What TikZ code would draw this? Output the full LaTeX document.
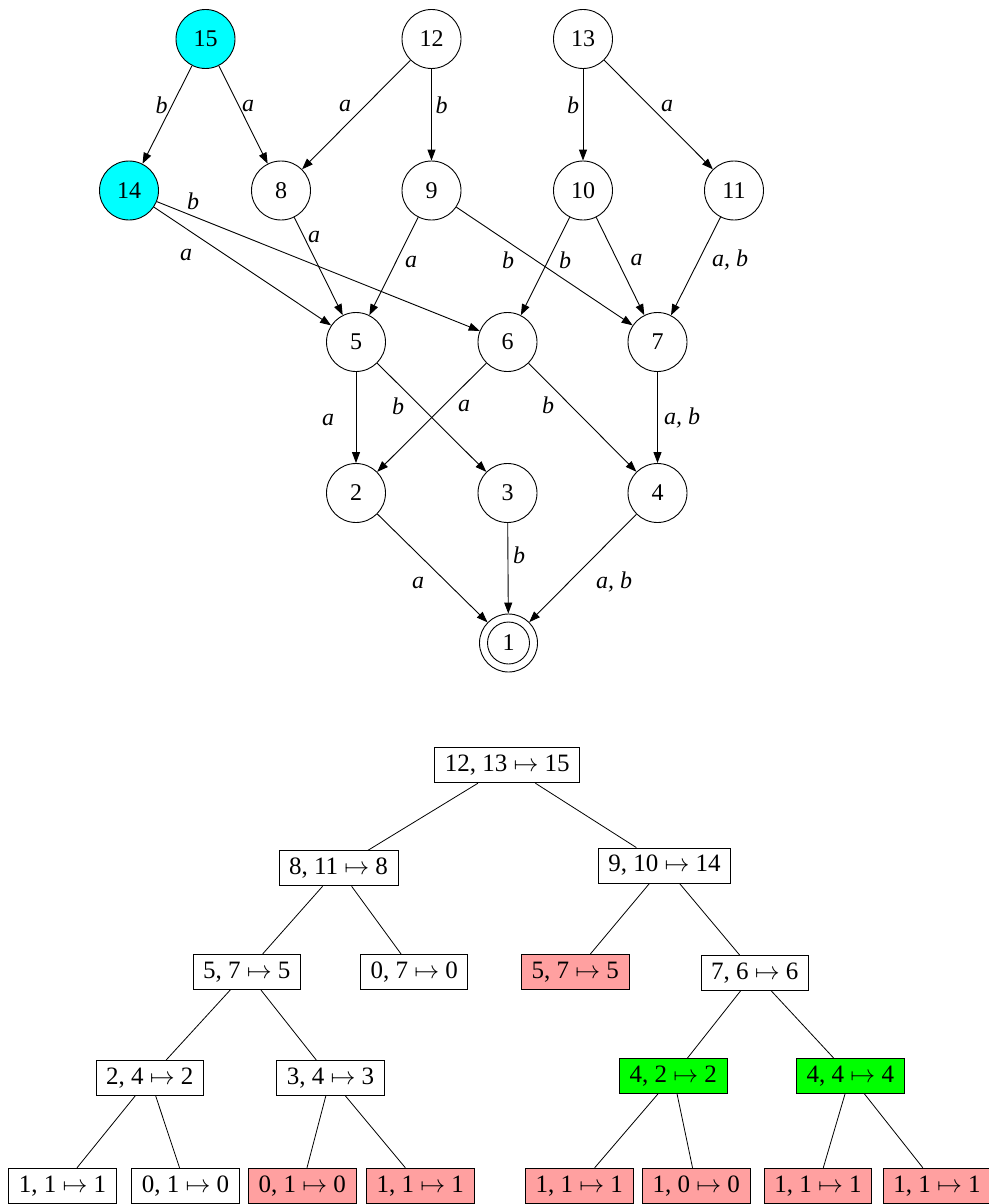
\documentclass[tikz,border=0pt]{standalone}
\usepackage{fontspec}
\setmainfont{Liberation Serif}
\definecolor{stCyan}{HTML}{00FFFF}
\definecolor{pairRed}{HTML}{FFA0A0}
\definecolor{pairGreen}{HTML}{00FF00}
\usetikzlibrary{arrows.meta}
\newcommand{\mt}{~$\mapsto$~}

\begin{document}
\begin{tikzpicture}[
  x=1pt, y=-1pt,
  stt/.style={draw, circle, line width=0.9pt, minimum size=59pt, inner sep=0pt, font=\fontsize{24}{28}\selectfont},
  pairbox/.style={draw, rectangle, line width=0.9pt, minimum height=35pt, inner xsep=10pt, inner ysep=0pt, font=\fontsize{25}{29}\selectfont},
  lbl/.style={font=\fontsize{24}{28}\selectfont\itshape, inner sep=0pt},
  arr/.style={-{Triangle[length=11pt,width=8pt]}, line width=0.9pt},
  tedge/.style={line width=0.8pt}
]
  \useasboundingbox (0,0) rectangle (988,1204);

  % the automaton
  \node[stt, fill=stCyan] (q15) at (205.5,39) {15};
  \node[stt] (q12) at (431.5,39) {12};
  \node[stt] (q13) at (583,39) {13};
  \node[stt, fill=stCyan] (q14) at (129,190.5) {14};
  \node[stt] (q8) at (281,190.5) {8};
  \node[stt] (q9) at (431.5,190.5) {9};
  \node[stt] (q10) at (583,190.5) {10};
  \node[stt] (q11) at (734,190.5) {11};
  \node[stt] (q5) at (356,342) {5};
  \node[stt] (q6) at (507.5,342) {6};
  \node[stt] (q7) at (657.5,342) {7};
  \node[stt] (q2) at (356,493) {2};
  \node[stt] (q3) at (507.5,493) {3};
  \node[stt] (q4) at (657.5,493) {4};
  \node[stt, minimum size=58pt] (q1) at (508.5,643) {1};
  \draw[line width=0.9pt] (q1.center) circle (21pt);

  \draw[arr] (q15) -- (q14);
  \draw[arr] (q15) -- (q8);
  \draw[arr] (q12) -- (q8);
  \draw[arr] (q12) -- (q9);
  \draw[arr] (q13) -- (q10);
  \draw[arr] (q13) -- (q11);
  \draw[arr] (q14) -- (q5);
  \draw[arr] (q14) -- (q6);
  \draw[arr] (q8) -- (q5);
  \draw[arr] (q9) -- (q5);
  \draw[arr] (q9) -- (q7);
  \draw[arr] (q10) -- (q6);
  \draw[arr] (q10) -- (q7);
  \draw[arr] (q11) -- (q7);
  \draw[arr] (q5) -- (q2);
  \draw[arr] (q5) -- (q3);
  \draw[arr] (q6) -- (q2);
  \draw[arr] (q6) -- (q4);
  \draw[arr] (q7) -- (q4);
  \draw[arr] (q2) -- (q1);
  \draw[arr] (q3) -- (q1);
  \draw[arr] (q4) -- (q1);

  % transition labels
  \node[lbl] (l15-14) at (161.7,105) {b};
  \node[lbl] (l15-8) at (248,106) {a};
  \node[lbl] (l12-8) at (345,106) {a};
  \node[lbl] (l12-9) at (441.7,105) {b};
  \node[lbl] (l13-10) at (573,105) {b};
  \node[lbl] (l13-11) at (667,106) {a};
  \node[lbl] (l14-6) at (193,201.7) {b};
  \node[lbl] (l14-5) at (186,255) {a};
  \node[lbl] (l8-5) at (314,236.7) {a};
  \node[lbl] (l9-5) at (411,261.7) {a};
  \node[lbl] (l9-7) at (508,260) {b};
  \node[lbl] (l10-6) at (565,260) {b};
  \node[lbl] (l10-7) at (636.7,260) {a};
  \node[lbl] (l11-7) at (730,260) {a, b};
  \node[lbl] (l5-2) at (328,420) {a};
  \node[lbl] (l5-3) at (398,406) {b};
  \node[lbl] (l6-2) at (464,406) {a};
  \node[lbl] (l6-4) at (548,405) {b};
  \node[lbl] (l7-4) at (682,418) {a, b};
  \node[lbl] (l2-1) at (418,583) {a};
  \node[lbl] (l3-1) at (519,555) {b};
  \node[lbl] (l4-1) at (614,582) {a, b};

  % the pair tree
  \node[pairbox] (p1) at (507.3,765.3) {12, 13\mt15};
  \node[pairbox] (p2) at (338.5,868.3) {8, 11\mt8};
  \node[pairbox] (p3) at (664.5,865.5) {9, 10\mt14};
  \node[pairbox] (p4) at (246.7,972) {5, 7\mt5};
  \node[pairbox] (p5) at (414.2,972) {0, 7\mt0};
  \node[pairbox, fill=pairRed] (p6) at (575.3,972) {5, 7\mt5};
  \node[pairbox] (p7) at (754.7,973) {7, 6\mt6};
  \node[pairbox] (p8) at (149.7,1078) {2, 4\mt2};
  \node[pairbox] (p9) at (330.5,1078) {3, 4\mt3};
  \node[pairbox, fill=pairGreen] (p10) at (673.3,1076) {4, 2\mt2};
  \node[pairbox, fill=pairGreen] (p11) at (850.3,1076) {4, 4\mt4};
  \node[pairbox] (p12) at (62.5,1185.7) {1, 1\mt1};
  \node[pairbox] (p13) at (185.5,1185.7) {0, 1\mt0};
  \node[pairbox, fill=pairRed] (p14) at (302.3,1185.7) {0, 1\mt0};
  \node[pairbox, fill=pairRed] (p15) at (420.3,1185.7) {1, 1\mt1};
  \node[pairbox, fill=pairRed] (p16) at (579.3,1185.7) {1, 1\mt1};
  \node[pairbox, fill=pairRed] (p17) at (696.3,1185.7) {1, 0\mt0};
  \node[pairbox, fill=pairRed] (p18) at (818,1185.7) {1, 1\mt1};
  \node[pairbox, fill=pairRed] (p19) at (937,1185.7) {1, 1\mt1};

  \draw[tedge] (p1) -- (p2);
  \draw[tedge] (p1) -- (p3);
  \draw[tedge] (p2) -- (p4);
  \draw[tedge] (p2) -- (p5);
  \draw[tedge] (p3) -- (p6);
  \draw[tedge] (p3) -- (p7);
  \draw[tedge] (p4) -- (p8);
  \draw[tedge] (p4) -- (p9);
  \draw[tedge] (p7) -- (p10);
  \draw[tedge] (p7) -- (p11);
  \draw[tedge] (p8) -- (p12);
  \draw[tedge] (p8) -- (p13);
  \draw[tedge] (p9) -- (p14);
  \draw[tedge] (p9) -- (p15);
  \draw[tedge] (p10) -- (p16);
  \draw[tedge] (p10) -- (p17);
  \draw[tedge] (p11) -- (p18);
  \draw[tedge] (p11) -- (p19);
\end{tikzpicture}
\end{document}
